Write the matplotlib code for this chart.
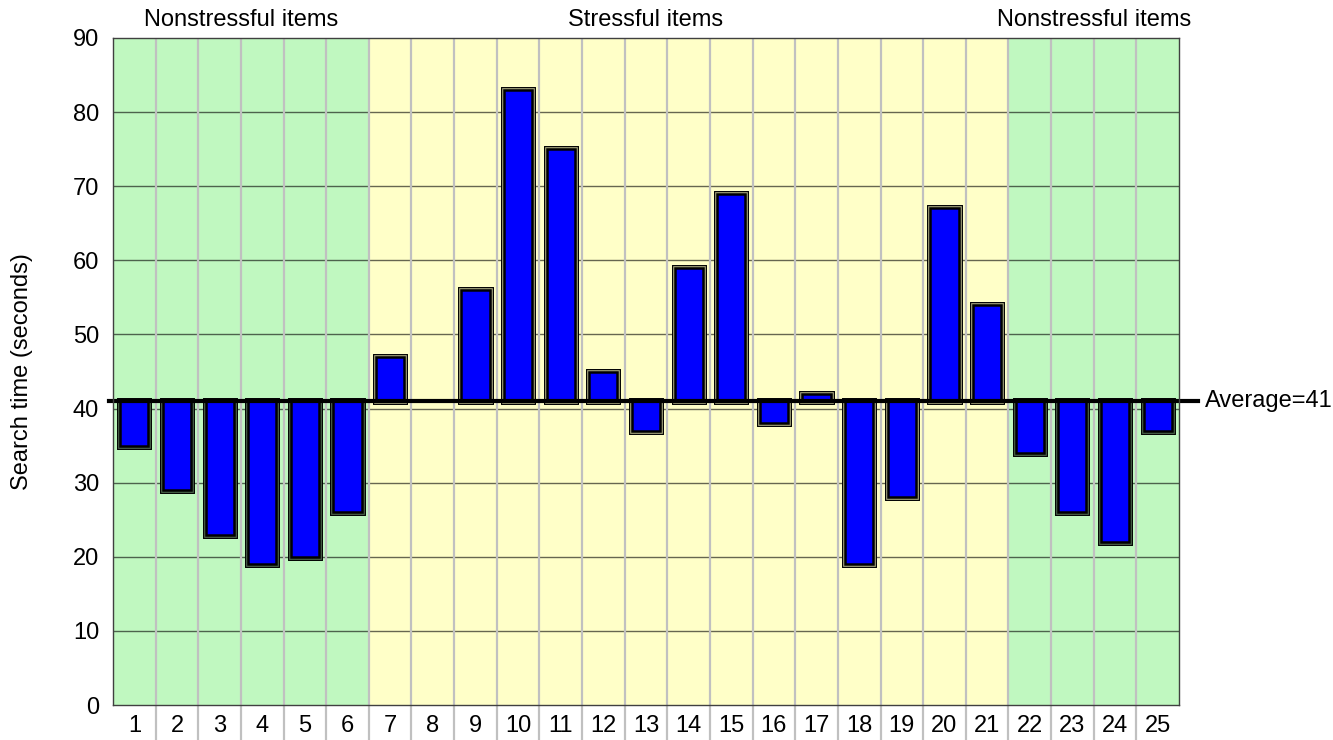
import numpy as np
import matplotlib.pyplot as plt
import matplotlib.patheffects as pe

plt.rcParams['font.family'] = ['Liberation Sans', 'DejaVu Sans']

items = list(range(1, 26))
search_time = [35, 29, 23, 19, 20, 26, 47, 41, 56, 83, 75, 45, 37, 59, 69, 38, 42,
               19, 28, 67, 54, 34, 26, 22, 37]
stressful = [False] * 6 + [True] * 15 + [False] * 4
average = 41

group_labels = ["Nonstressful items", "Stressful items", "Nonstressful items"]
group_label_x = [3.5, 13, 23.5]

green = '#c0f8c0'
yellow = '#ffffc8'
fs = 17

fig = plt.figure(figsize=(13.33, 7.4), dpi=100)
ax = fig.add_axes([113 / 1333, 1 - 705 / 740, (1179 - 113) / 1333, (705 - 38) / 740])

ax.set_xlim(0.5, 25.5)
ax.set_ylim(0, 90)

# background bands per column
for x, s in zip(items, stressful):
    ax.axvspan(x - 0.5, x + 0.5, color=yellow if s else green, lw=0, zorder=0)

# horizontal grid
for y in range(10, 90, 10):
    ax.axhline(y, color='black', alpha=0.6, lw=1, zorder=1)

# vertical column dividers, extending below the plot
ax.vlines(np.arange(1.5, 25.5, 1), -5, 90, color='#c0c0c0', lw=1.6, clip_on=False, zorder=1)

# bars from the average line
for x, v, s in zip(items, search_time, stressful):
    if v == average:
        continue
    mid = '#a8a880' if s else '#4e684e'
    ax.bar(x, v - average, bottom=average, width=0.66, color='#0000ff',
           edgecolor='black', lw=1.8, zorder=3,
           path_effects=[pe.Stroke(linewidth=5.0, foreground='black'),
                         pe.Stroke(linewidth=3.4, foreground=mid),
                         pe.Normal()])

# average line
ax.plot([0.41, 25.95], [average, average], color='black', lw=3, clip_on=False, zorder=4)
ax.text(26.12, average, f"Average={average}", fontsize=fs, va='center', ha='left')

for lab, gx in zip(group_labels, group_label_x):
    ax.text(gx, 90 + 18 / 7.39, lab, fontsize=fs, ha='center', va='center')

ax.set_xticks(items)
ax.set_xticklabels([str(i) for i in items])
ax.set_yticks(range(0, 100, 10))
ax.tick_params(axis='both', length=0, labelsize=fs)
ax.tick_params(axis='x', pad=7)
ax.tick_params(axis='y', pad=10)

for sp in ax.spines.values():
    sp.set_color('#404040')
    sp.set_linewidth(1)
    sp.set_zorder(5)

fig.text(22 / 1333, 1 - 372 / 740, "Search time (seconds)", rotation=90,
         fontsize=fs, ha='center', va='center')

fig.savefig("out.png", dpi=100)
